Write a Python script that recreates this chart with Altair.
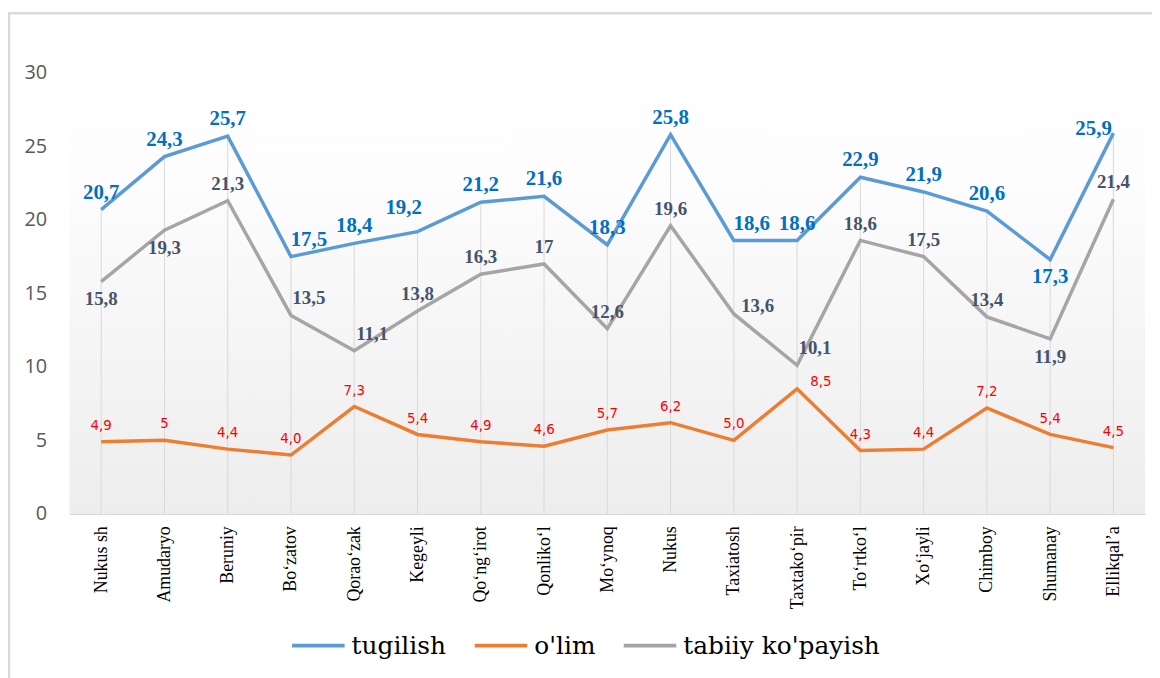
import altair as alt
import pandas as pd

districts = ["Nukus  sh", "Amudaryo", "Beruniy", "Bo‘zatov", "Qorao‘zak", "Kegeyli",
             "Qo‘ng‘irot", "Qonliko‘l", "Mo‘ynoq", "Nukus", "Taxiatosh", "Taxtako‘pir",
             "To‘rtko‘l", "Xo‘jayli", "Chimboy", "Shumanay", "Ellikqal’a"]

series_names = ["tugilish", "o'lim", "tabiiy ko'payish"]

tugilish = [20.7, 24.3, 25.7, 17.5, 18.4, 19.2, 21.2, 21.6, 18.3, 25.8, 18.6, 18.6, 22.9, 21.9, 20.6, 17.3, 25.9]
olim = [4.9, 5.0, 4.4, 4.0, 7.3, 5.4, 4.9, 4.6, 5.7, 6.2, 5.0, 8.5, 4.3, 4.4, 7.2, 5.4, 4.5]
tabiiy = [15.8, 19.3, 21.3, 13.5, 11.1, 13.8, 16.3, 17.0, 12.6, 19.6, 13.6, 10.1, 18.6, 17.5, 13.4, 11.9, 21.4]

tugilish_labels = ["20,7", "24,3", "25,7", "17,5", "18,4", "19,2", "21,2", "21,6", "18,3", "25,8",
                   "18,6", "18,6", "22,9", "21,9", "20,6", "17,3", "25,9"]
olim_labels = ["4,9", "5", "4,4", "4,0", "7,3", "5,4", "4,9", "4,6", "5,7", "6,2",
               "5,0", "8,5", "4,3", "4,4", "7,2", "5,4", "4,5"]
tabiiy_labels = ["15,8", "19,3", "21,3", "13,5", "11,1", "13,8", "16,3", "17", "12,6", "19,6",
                 "13,6", "10,1", "18,6", "17,5", "13,4", "11,9", "21,4"]

# label placement codes (style, not data)
tugilish_place = ["t", "t", "t", "tr", "t", "tl", "t", "t", "t", "t", "tr", "t", "t", "t", "t", "b", "l"]
olim_place = ["t"] * 11 + ["r"] + ["t"] * 5
tabiiy_place = ["b", "b", "t", "tr", "tr", "t", "t", "t", "t", "t", "r", "tr", "t", "t", "t", "b", "t"]

offsets = {"t": (0, -17), "b": (0, 18), "tr": (18, -17), "tl": (-14, -24), "l": (-20, -4), "r": (24, -8)}

keys = ["a", "b", "c"]
colors = ["#5B9BD5", "#ED7D31", "#A5A5A5"]

rows = []
for key, name, vals, labs, pls in [
    ("a", series_names[0], tugilish, tugilish_labels, tugilish_place),
    ("b", series_names[1], olim, olim_labels, olim_place),
    ("c", series_names[2], tabiiy, tabiiy_labels, tabiiy_place),
]:
    for d, v, l, p in zip(districts, vals, labs, pls):
        rows.append({"district": d, "series": name, "key": key, "value": v, "label": l, "code": p})
df = pd.DataFrame(rows)

W, H = 1083, 444
SERIF = "Liberation Serif"
LEGEND_FONT = "DejaVu Serif"

x_enc = alt.X("district:N", sort=districts,
              scale=alt.Scale(type="point", padding=0.5),
              axis=alt.Axis(title=None, labelAngle=-90, labelFont=SERIF,
                            labelFontSize=18, labelColor="black", ticks=False,
                            domainColor="#d9d9d9", domainWidth=1.5, grid=False, labelPadding=12))
y_enc = alt.Y("value:Q", scale=alt.Scale(domain=[0, 30]),
              axis=alt.Axis(values=[0, 5, 10, 15, 20, 25, 30], title=None, grid=False,
                            domain=False, ticks=False, labelFont="Open Sans",
                            labelFontSize=20, labelColor="#595959", labelPadding=23))

one = pd.DataFrame({"a": [0]})
bg = alt.Chart(one).mark_rect(
    color=alt.LinearGradient(gradient="linear", x1=0, y1=0, x2=0, y2=1,
                             stops=[alt.GradientStop(offset=0, color="#ffffff"),
                                    alt.GradientStop(offset=0.25, color="#fdfdfd"),
                                    alt.GradientStop(offset=1, color="#ededed")])
).encode(x=alt.value(0), x2=alt.value(W), y=alt.value(-10), y2=alt.value(H))

border = alt.Chart(one).mark_rect(fill=None, stroke="#d9d9d9", strokeWidth=2.5).encode(
    x=alt.value(-61), x2=alt.value(W + 40), y=alt.value(-60), y2=alt.value(H + 300))

base = alt.Chart(df)

drops = base.transform_filter(alt.FieldEqualPredicate(field="key", equal="a")).mark_rule(
    color="#d9d9d9", strokeWidth=1).encode(x=x_enc, y=y_enc, y2=alt.datum(0))

lines = base.mark_line(strokeWidth=3.5).encode(
    x=x_enc, y=y_enc,
    color=alt.Color("series:N", sort=series_names,
                    scale=alt.Scale(domain=series_names, range=colors),
                    legend=alt.Legend(title=None, orient="none", direction="horizontal",
                                      legendX=222, legendY=548, symbolType="stroke",
                                      symbolSize=2800, symbolStrokeWidth=4,
                                      labelFont=LEGEND_FONT, labelFontSize=25, labelLimit=0,
                                      labelColor="black", columnPadding=20, labelOffset=5)),
    detail="key:N")

text_styles = {
    "a": dict(font=SERIF, fontSize=21, fontWeight="bold", color="#0070C0"),
    "b": dict(font="DejaVu Sans Condensed", fontSize=15, fontWeight="normal", color="#FF0000"),
    "c": dict(font=SERIF, fontSize=19, fontWeight="bold", color="#44546A"),
}

text_layers = []
for key, pls in zip(keys, [tugilish_place, olim_place, tabiiy_place]):
    for code in sorted(set(pls)):
        dx, dy = offsets[code]
        t = base.transform_filter(
            alt.FieldEqualPredicate(field="key", equal=key)
        ).transform_filter(
            alt.FieldEqualPredicate(field="code", equal=code)
        ).mark_text(dx=dx, dy=dy, baseline="middle", align="center", **text_styles[key]).encode(
            x=x_enc, y=y_enc, text="label:N")
        text_layers.append(t)

chart = alt.layer(bg, border, drops, lines, *text_layers).properties(
    width=W, height=H,
    autosize=alt.AutoSizeParams(type="none"),
    padding={"left": 62, "top": 63, "right": 7, "bottom": 163},
    background="white",
).configure_view(stroke=None).configure_legend(labelLimit=0)

chart.save("out.html", embed_options={"renderer": "svg", "actions": False})
